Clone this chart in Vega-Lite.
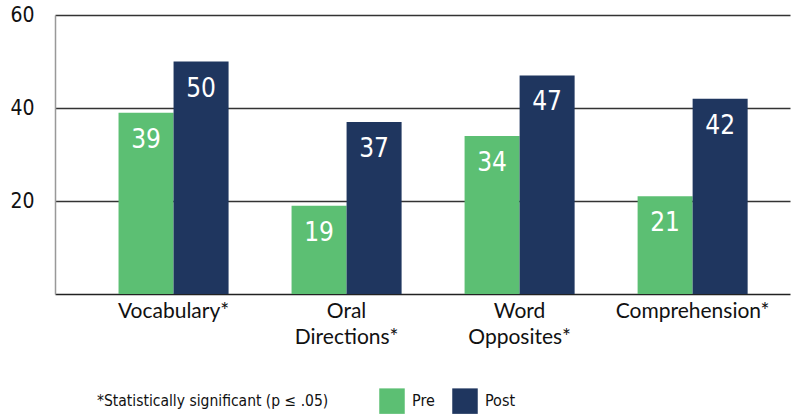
{
  "$schema": "https://vega.github.io/schema/vega-lite/v6.json",
  "width": 735,
  "height": 279,
  "autosize": {"type": "none"},
  "padding": {"left": 55, "top": 15, "right": 1, "bottom": 121},
  "background": "white",
  "data": {
    "values": [
      {"category": "Vocabulary*", "group": "Pre", "value": 39},
      {"category": "Vocabulary*", "group": "Post", "value": 50},
      {"category": "Oral|Directions*", "group": "Pre", "value": 19},
      {"category": "Oral|Directions*", "group": "Post", "value": 37},
      {"category": "Word|Opposites*", "group": "Pre", "value": 34},
      {"category": "Word|Opposites*", "group": "Post", "value": 47},
      {"category": "Comprehension*", "group": "Pre", "value": 21},
      {"category": "Comprehension*", "group": "Post", "value": 42}
    ]
  },
  "encoding": {
    "x": {
      "field": "category",
      "type": "nominal",
      "sort": null,
      "title": null,
      "scale": {"paddingInner": 0.364, "paddingOuter": 0.306, "align": 0.6},
      "axis": {
        "labelAngle": 0,
        "ticks": false,
        "domainColor": "#222222",
        "domainWidth": 1.5,
        "labelExpr": "split(datum.label, '|')",
        "labelFont": "Lato",
        "labelFontSize": 21,
        "labelColor": "#111111",
        "labelPadding": 6,
        "labelLineHeight": 26,
        "labelBaseline": "top"
      }
    },
    "xOffset": {
      "field": "group",
      "type": "nominal",
      "sort": ["Pre", "Post"],
      "scale": {"paddingInner": 0, "paddingOuter": 0}
    },
    "y": {
      "field": "value",
      "type": "quantitative",
      "title": null,
      "scale": {"domain": [0, 60], "nice": false},
      "axis": {
        "values": [20, 40, 60],
        "ticks": false,
        "domainColor": "#999999",
        "domainWidth": 1.5,
        "gridColor": "#333333",
        "gridWidth": 1.5,
        "labelFont": "DejaVu Sans Condensed, Roboto, sans-serif",
        "labelFontSize": 21,
        "labelColor": "#111111",
        "labelPadding": 21
      }
    }
  },
  "layer": [
    {
      "mark": {"type": "bar"},
      "encoding": {
        "color": {
          "field": "group",
          "type": "nominal",
          "scale": {"domain": ["Pre", "Post"], "range": ["#5cbf73", "#1f365f"]},
          "legend": {
            "title": "*Statistically significant (p \u2264 .05)",
            "titleOrient": "left",
            "titlePadding": 50,
            "titleLimit": 500,
            "titleFont": "DejaVu Sans Condensed, Roboto, sans-serif",
            "titleFontSize": 15.5,
            "titleFontWeight": "normal",
            "titleColor": "#111111",
            "titleBaseline": "middle",
            "orient": "none",
            "legendX": 42,
            "legendY": 373,
            "direction": "horizontal",
            "symbolType": "square",
            "symbolSize": 650,
            "symbolStrokeWidth": 0,
            "symbolOpacity": 1,
            "labelFont": "DejaVu Sans Condensed, Roboto, sans-serif",
            "labelFontSize": 16,
            "labelColor": "#111111",
            "labelOffset": 7,
            "columnPadding": 17
          }
        }
      }
    },
    {
      "mark": {
        "type": "text",
        "baseline": "top",
        "dy": 14,
        "color": "white",
        "font": "DejaVu Sans Condensed, Roboto, sans-serif",
        "fontSize": 26,
        "fontWeight": "normal"
      },
      "encoding": {
        "text": {"field": "value", "type": "quantitative"}
      }
    }
  ],
  "config": {
    "view": {"stroke": null}
  }
}
